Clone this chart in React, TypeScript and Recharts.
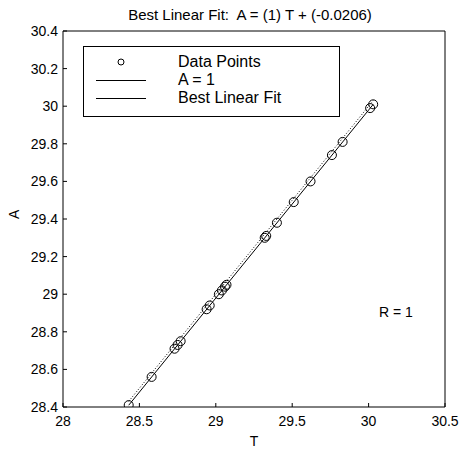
import { ComposedChart, Scatter, XAxis, YAxis, Legend } from "recharts";

// targets (T) and network outputs (A)
const tValues = [
  28.43, 28.58, 28.73, 28.75, 28.77, 28.94, 28.96, 29.02, 29.04, 29.06, 29.07,
  29.32, 29.33, 29.4, 29.51, 29.62, 29.76, 29.83, 30.01, 30.03,
];
const aValues = [
  28.41, 28.56, 28.71, 28.73, 28.75, 28.92, 28.94, 29.0, 29.02, 29.04, 29.05,
  29.3, 29.31, 29.38, 29.49, 29.6, 29.74, 29.81, 29.99, 30.01,
];

const xTicks = [28, 28.5, 29, 29.5, 30, 30.5];
const yTicks = [28.4, 28.6, 28.8, 29, 29.2, 29.4, 29.6, 29.8, 30, 30.2, 30.4];

const slope = 1;
const intercept = -0.0206;
const rValue = 1;
const legendOrder = ["Data Points", "A = 1", "Best Linear Fit"];

const points = tValues.map((t, i) => ({ t, a: aValues[i] }));
const tMin = Math.min(...tValues);
const tMax = Math.max(...tValues);
const identityLine = [
  { t: tMin, a: tMin },
  { t: tMax, a: tMax },
];
const fitLine = [
  { t: tMin, a: slope * tMin + intercept },
  { t: tMax, a: slope * tMax + intercept },
];

const OpenCircle = (props: any) => {
  const { cx, cy } = props;
  return <circle cx={cx} cy={cy} r={4.5} fill="none" stroke="#000" strokeWidth={1} />;
};

const NoMark = () => <g />;

const LegendBox = (props: any) => {
  const items = [...(props.payload || [])].sort(
    (a: any, b: any) => legendOrder.indexOf(a.value) - legendOrder.indexOf(b.value)
  );
  return (
    <div style={{ paddingTop: 6 }}>
      {items.map((entry: any, i: number) => (
        <div key={`leg-${i}`} style={{ display: "flex", alignItems: "center", height: 18 }}>
          <svg width={94} height={18}>
            {entry.type === "circle" ? (
              <circle cx={37} cy={9} r={3} fill="none" stroke="#000" />
            ) : (
              <line x1={12} x2={62} y1={9.5} y2={9.5} stroke="#000" />
            )}
          </svg>
          <span style={{ fontSize: 16, color: "#000", lineHeight: "18px" }}>{entry.value}</span>
        </div>
      ))}
    </div>
  );
};

export default function App() {
  return (
    <div
      style={{
        position: "absolute",
        left: 0,
        top: 0,
        width: 464,
        height: 449,
        background: "#fff",
        fontFamily: "'Liberation Sans', Arial, sans-serif",
      }}
    >
      <div
        style={{
          position: "absolute",
          left: 50,
          width: 400,
          top: 6,
          textAlign: "center",
          fontSize: 15,
          color: "#000",
          whiteSpace: "pre",
        }}
      >
        {`Best Linear Fit:  A = (${slope}) T + (${intercept})`}
      </div>
      <ComposedChart
        width={464}
        height={449}
        margin={{ top: 30, right: 18, bottom: 2, left: 8 }}
      >
        <XAxis
          xAxisId="b"
          type="number"
          dataKey="t"
          domain={[28, 30.5]}
          ticks={xTicks}
          allowDataOverflow
          height={40}
          stroke="#000"
          tickSize={-4}
          tickMargin={13}
          tick={{ fill: "#000", fontSize: 14 }}
          label={{ value: "T", position: "insideBottom", offset: 1, fill: "#000", fontSize: 14 }}
        />
        <XAxis
          xAxisId="top"
          orientation="top"
          type="number"
          domain={[28, 30.5]}
          ticks={xTicks}
          allowDataOverflow
          height={1}
          stroke="#000"
          tickSize={-4}
          tick={false}
        />
        <YAxis
          yAxisId="l"
          type="number"
          dataKey="a"
          domain={[28.4, 30.4]}
          ticks={yTicks}
          allowDataOverflow
          width={55}
          stroke="#000"
          tickSize={-4}
          tickMargin={9}
          tick={{ fill: "#000", fontSize: 14 }}
          label={{ value: "A", angle: -90, position: "insideLeft", offset: 6, fill: "#000", fontSize: 14 }}
        />
        <YAxis
          yAxisId="r"
          orientation="right"
          type="number"
          domain={[28.4, 30.4]}
          ticks={yTicks}
          allowDataOverflow
          width={1}
          stroke="#000"
          tickSize={-4}
          tick={false}
        />
        <Legend
          layout="vertical"
          verticalAlign="middle"
          align="center"
          content={<LegendBox />}
          wrapperStyle={{
            left: 83,
            top: 46,
            width: 257,
            height: 71,
            border: "1px solid #000",
            background: "#fff",
            boxSizing: "border-box",
          }}
        />
        <Scatter
          name="Data Points"
          data={points}
          xAxisId="b"
          yAxisId="l"
          shape={<OpenCircle />}
          legendType="circle"
          isAnimationActive={false}
        />
        <Scatter
          name="A = 1"
          data={identityLine}
          xAxisId="b"
          yAxisId="l"
          line={{ stroke: "#000", strokeWidth: 1, strokeDasharray: "1 2" }}
          shape={<NoMark />}
          legendType="line"
          isAnimationActive={false}
        />
        <Scatter
          name="Best Linear Fit"
          data={fitLine}
          xAxisId="b"
          yAxisId="l"
          line={{ stroke: "#000", strokeWidth: 1 }}
          shape={<NoMark />}
          legendType="line"
          isAnimationActive={false}
        />
      </ComposedChart>
      <div
        style={{
          position: "absolute",
          left: 379,
          top: 304,
          fontSize: 14,
          color: "#000",
          whiteSpace: "pre",
        }}
      >
        R = {rValue}
      </div>
    </div>
  );
}
